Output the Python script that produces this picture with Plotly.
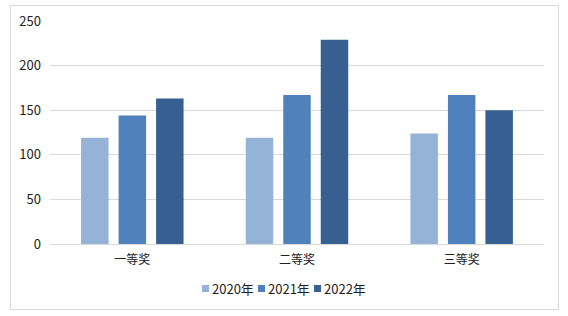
import plotly.graph_objects as go

categories = ["一等奖", "二等奖", "三等奖"]
series_names = ["2020年", "2021年", "2022年"]
values_2020 = [119, 119, 124]
values_2021 = [144, 167, 167]
values_2022 = [163, 229, 150]
colors = ["#95B3D7", "#4F81BD", "#366092"]
y_ticks = [0, 50, 100, 150, 200, 250]

FONT = "Noto Sans CJK SC, Microsoft YaHei, sans-serif"

fig = go.Figure()
for name, vals, col in zip(series_names, [values_2020, values_2021, values_2022], colors):
    fig.add_trace(go.Bar(x=categories, y=vals, name=name, showlegend=False,
                         marker=dict(color=col, line=dict(width=0))))

W, H = 568, 316
ml, mr, mt, mb = 50, 24, 21, 72
pw, ph = W - ml - mr, H - mt - mb

def px_x(x):
    return (x - ml) / pw

def px_y(y):
    return (H - mb - y) / ph

shapes = [dict(type="rect", xref="paper", yref="paper",
               x0=px_x(10.5), x1=px_x(558.5), y0=px_y(309.5), y1=px_y(5.5),
               line=dict(color="#D9D9D9", width=1), fillcolor="rgba(0,0,0,0)", layer="below")]
annotations = []
# custom compact legend
leg_x0, leg_step, leg_y = 202, 56, 288.5
for i, (name, col) in enumerate(zip(series_names, colors)):
    sx = leg_x0 + i * leg_step
    shapes.append(dict(type="rect", xref="paper", yref="paper",
                       x0=px_x(sx), x1=px_x(sx + 7), y0=px_y(leg_y + 3.5), y1=px_y(leg_y - 3.5),
                       line=dict(width=0), fillcolor=col))
    annotations.append(dict(xref="paper", yref="paper", x=px_x(sx + 8), y=px_y(leg_y),
                            xanchor="left", yanchor="middle", text=name, showarrow=False,
                            font=dict(size=13, color="#222222", family=FONT)))

fig.update_layout(
    width=W, height=H,
    margin=dict(l=ml, r=mr, t=mt, b=mb),
    paper_bgcolor="white", plot_bgcolor="white",
    barmode="group", bargap=0.317, bargroupgap=0.267,
    font=dict(family=FONT, size=12, color="#222222"),
    showlegend=False,
    xaxis=dict(showgrid=False, showline=True, linecolor="#D9D9D9", linewidth=1, ticks="",
               tickfont=dict(size=12), ticklabelstandoff=5),
    yaxis=dict(range=[0, 250], tickvals=y_ticks, showgrid=True, gridcolor="#D9D9D9", gridwidth=1,
               zeroline=False, showline=False, ticks="", tickfont=dict(size=13), ticklabelstandoff=8),
    shapes=shapes,
    annotations=annotations,
)

fig.write_html("out.html")
